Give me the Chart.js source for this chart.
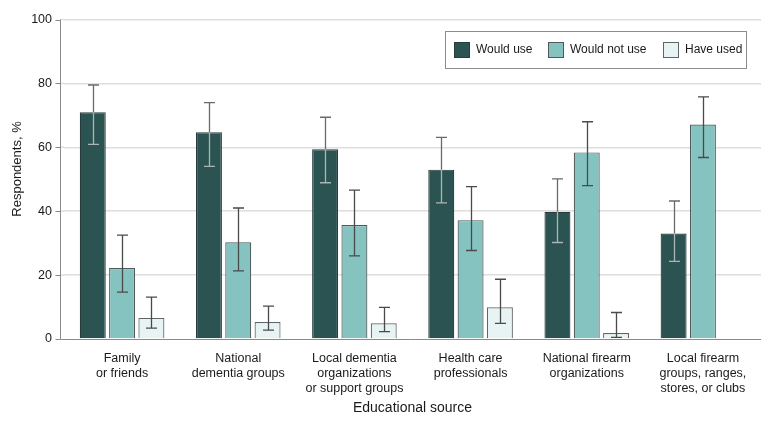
<!DOCTYPE html>
<html>
<head>
<meta charset="utf-8">
<script src="https://cdn.jsdelivr.net/npm/chart.js@4/dist/chart.umd.min.js"></script>
<style>
  html, body { margin: 0; padding: 0; background: #ffffff; }
  #wrap { width: 780px; height: 425px; position: relative; }
</style>
</head>
<body>
<div id="wrap"><canvas id="c" width="780" height="425"></canvas></div>
<script>
// ---- Data ----
const categories = [
  ["Family", "or friends"],
  ["National", "dementia groups"],
  ["Local dementia", "organizations", "or support groups"],
  ["Health care", "professionals"],
  ["National firearm", "organizations"],
  ["Local firearm", "groups, ranges,", "stores, or clubs"]
];
const seriesNames = ["Would use", "Would not use", "Have used"];

const wouldUse      = [71.0, 64.7, 59.4, 53.0, 39.8, 33.0];
const wouldUseLow   = [60.9, 54.0, 48.9, 42.6, 30.2, 24.3];
const wouldUseHigh  = [79.5, 74.0, 69.4, 63.1, 50.1, 43.2];

const wouldNotUse     = [22.2, 30.3, 35.7, 37.2, 58.4, 67.1];
const wouldNotUseLow  = [14.7, 21.3, 26.0, 27.7, 48.0, 56.8];
const wouldNotUseHigh = [32.5, 41.0, 46.6, 47.7, 68.0, 75.8];

const haveUsed     = [6.6, 5.3, 4.9, 9.9, 1.9, null];
const haveUsedLow  = [3.4, 2.8, 2.3, 4.9, 0.5, null];
const haveUsedHigh = [13.1, 10.3, 9.9, 18.7, 8.3, null];

const yTicks = [0, 20, 40, 60, 80, 100];
const yTitle = "Respondents, %";
const xTitle = "Educational source";

// ---- Styles ----
const FONT = "'Liberation Sans', Arial, sans-serif";
const fills = ["#2b5351", "#85c3c1", "#e8f4f4"];
const borders = ["#2a3b3a", "#4f5a5a", "#5e6666"];
const errLows = [wouldUseLow, wouldNotUseLow, haveUsedLow];
const errHighs = [wouldUseHigh, wouldNotUseHigh, haveUsedHigh];

// Error bars drawn through the library's scales
const errorBarPlugin = {
  id: 'errorBars',
  afterDatasetsDraw(chart) {
    const ctx = chart.ctx;
    const y = chart.scales.y;
    chart.data.datasets.forEach((ds, i) => {
      const meta = chart.getDatasetMeta(i);
      meta.data.forEach((bar, j) => {
        const lo = errLows[i][j], hi = errHighs[i][j];
        if (lo == null || hi == null || ds.data[j] == null) return;
        const x = Math.round(bar.x) + 0.5;
        const yLo = y.getPixelForValue(lo);
        const yHi = y.getPixelForValue(hi);
        const yTop = y.getPixelForValue(ds.data[j]);
        const cap = 5.5;
        ctx.save();
        ctx.lineWidth = 1.3;
        if (i === 0) {
          ctx.strokeStyle = "#6a6a6a";
          ctx.beginPath();
          ctx.moveTo(x, yHi); ctx.lineTo(x, Math.min(yTop, yLo));
          ctx.moveTo(x - cap, yHi); ctx.lineTo(x + cap, yHi);
          ctx.stroke();
          ctx.strokeStyle = "#aab6b5";
          ctx.beginPath();
          ctx.moveTo(x, yTop); ctx.lineTo(x, yLo);
          ctx.moveTo(x - cap, yLo); ctx.lineTo(x + cap, yLo);
          ctx.stroke();
        } else {
          ctx.strokeStyle = "#4a4a4a";
          ctx.beginPath();
          ctx.moveTo(x, yHi); ctx.lineTo(x, yLo);
          ctx.moveTo(x - cap, yHi); ctx.lineTo(x + cap, yHi);
          ctx.moveTo(x - cap, yLo); ctx.lineTo(x + cap, yLo);
          ctx.stroke();
        }
        ctx.restore();
      });
    });
  }
};

// Axis lines, y tick marks
const axisPlugin = {
  id: 'axisLines',
  beforeDatasetsDraw(chart) {
    const ctx = chart.ctx;
    const a = chart.chartArea;
    const y = chart.scales.y;
    const axX = a.left - 3.5;
    ctx.save();
    ctx.strokeStyle = "#dedede";
    ctx.lineWidth = 1.5;
    yTicks.forEach(v => {
      if (v === 0) return;
      const py = y.getPixelForValue(v);
      ctx.beginPath(); ctx.moveTo(axX, py); ctx.lineTo(a.left, py); ctx.stroke();
    });
    ctx.strokeStyle = "#8a8a8a";
    ctx.lineWidth = 1;
    ctx.beginPath();
    ctx.moveTo(axX, y.getPixelForValue(100)); ctx.lineTo(axX, a.bottom);
    ctx.moveTo(axX, a.bottom + 0.5); ctx.lineTo(a.right, a.bottom + 0.5);
    yTicks.forEach(v => {
      const py = Math.round(y.getPixelForValue(v)) + 0.5;
      ctx.moveTo(axX - 5, py); ctx.lineTo(axX, py);
    });
    ctx.stroke();
    ctx.restore();
  }
};

// Boxed legend + y-axis title
const legendX = [454, 548, 663];
const legendBox = { left: 445, top: 31, right: 746, bottom: 68 };
const legendPlugin = {
  id: 'boxLegend',
  afterDraw(chart) {
    const ctx = chart.ctx;
    ctx.save();
    ctx.save();
    ctx.translate(17, 169);
    ctx.rotate(-Math.PI / 2);
    ctx.font = "13px " + FONT;
    ctx.fillStyle = "#1a1a1a";
    ctx.textAlign = "center";
    ctx.textBaseline = "middle";
    ctx.fillText(yTitle, 0, 0);
    ctx.restore();

    ctx.font = "12px " + FONT;
    const sw = 16, gapTxt = 6;
    const b = legendBox;
    ctx.strokeStyle = "#8c8c8c";
    ctx.lineWidth = 1;
    ctx.strokeRect(b.left + 0.5, b.top + 0.5, b.right - b.left, b.bottom - b.top);
    chart.data.datasets.forEach((ds, i) => {
      const sx = legendX[i];
      const sy = b.top + 11;
      ctx.fillStyle = fills[i];
      ctx.fillRect(sx, sy, sw, sw);
      ctx.strokeStyle = borders[i];
      ctx.strokeRect(sx + 0.5, sy + 0.5, sw - 1, sw - 1);
      ctx.fillStyle = "#1a1a1a";
      ctx.textAlign = "left";
      ctx.textBaseline = "middle";
      ctx.fillText(ds.label, sx + sw + gapTxt, sy + sw / 2);
    });
    ctx.restore();
  }
};

const datasets = [wouldUse, wouldNotUse, haveUsed].map((d, i) => ({
  label: seriesNames[i],
  data: d,
  backgroundColor: fills[i],
  borderColor: borders[i],
  borderWidth: 1.2,
  categoryPercentage: 0.757,
  barPercentage: 0.886
}));

new Chart(document.getElementById('c'), {
  type: 'bar',
  data: { labels: categories, datasets },
  plugins: [axisPlugin, errorBarPlugin, legendPlugin],
  options: {
    responsive: false,
    animation: false,
    devicePixelRatio: 1,
    layout: { padding: { left: 0, right: 19, top: 19, bottom: 0 } },
    plugins: { legend: { display: false }, tooltip: { enabled: false } },
    scales: {
      x: {
        afterFit(s) { s.height = 86; },
        grid: { display: false, drawTicks: false },
        border: { display: false },
        ticks: {
          color: "#1a1a1a",
          padding: 12,
          maxRotation: 0,
          autoSkip: false,
          font: { family: FONT, size: 12.5, lineHeight: 1.2 }
        },
        title: {
          display: true,
          text: xTitle,
          color: "#1a1a1a",
          font: { family: FONT, size: 14, lineHeight: 1.2 },
          padding: { top: 2, bottom: 8 }
        }
      },
      y: {
        min: 0, max: 100,
        afterFit(s) { s.width = 64; },
        afterBuildTicks(s) { s.ticks = yTicks.map(v => ({ value: v })); },
        border: { display: false },
        grid: {
          color: (c) => c.tick && c.tick.value === 0 ? "rgba(0,0,0,0)" : "#dedede",
          lineWidth: 1.5,
          drawTicks: false
        },
        ticks: {
          color: "#1a1a1a",
          padding: 12,
          font: { family: FONT, size: 12.5 }
        }
      }
    }
  }
});
</script>
</body>
</html>
